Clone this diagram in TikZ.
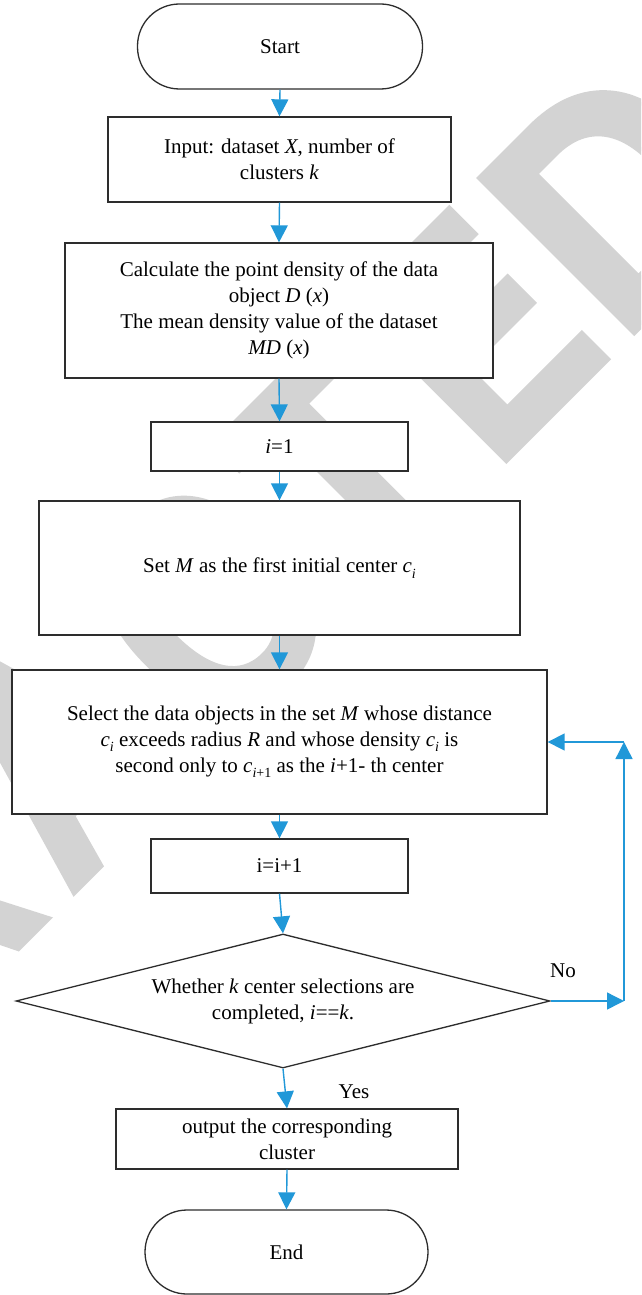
\documentclass[tikz,border=0pt]{standalone}
\usepackage{fontspec}
\setmainfont{Liberation Serif}
\newfontfamily\wmfont{Liberation Sans}[FakeBold=2,FakeStretch=0.8]
\newfontfamily\wmfontwide{Liberation Sans}[FakeBold=2,FakeStretch=0.9]
\usetikzlibrary{arrows.meta,shapes.geometric}
\definecolor{arrowblue}{RGB}{33,152,216}
\definecolor{wmgray}{RGB}{211,211,211}
\definecolor{boxline}{RGB}{45,45,45}
\newcommand\sbs[1]{\raisebox{-0.25em}{\fontsize{14}{14}\selectfont #1}}
\newcommand\wk{\kern27pt}
\tikzset{
  box/.style={draw=boxline, line width=1.3pt, fill=white, align=center, inner sep=0pt},
  term/.style={box, rounded corners=42pt},
  decision/.style={box, diamond, shape aspect=4},
  flow/.style={draw=arrowblue, line width=1.4pt, -{Triangle[length=17pt,width=17pt]}},
  wmark/.style={text=wmgray, font=\wmfont\bfseries\fontsize{316}{316}\selectfont, rotate=45, inner sep=0pt},
}
\begin{document}
\begin{tikzpicture}[x=1pt,y=-1pt, every node/.append style={font=\fontsize{21}{26}\selectfont}]
\useasboundingbox[fill=white] (0,0) rectangle (641,1295);
\begin{scope}
\clip (0,0) rectangle (641,1295);
\node[wmark, anchor=base east] (wm) at (766.3,199.7) {R\wk E\wk T\wk R\wk A\wk C\wk T\wk E\kern10pt{\wmfontwide\bfseries D}};
\end{scope}

\node[term, minimum width=285pt, minimum height=85pt] (start) at (280,46.5) {Start};
\node[box, minimum width=343pt, minimum height=85pt] (input) at (279.5,159.5)
  {Input: dataset \textit{X}, number of\\clusters \textit{k}};
\node[box, minimum width=428pt, minimum height=135pt] (calc) at (279,310.5)
  {Calculate the point density of the data\\object \textit{D} (\textit{x})\\The mean density value of the dataset\\\textit{MD} (\textit{x})};
\node[box, minimum width=257pt, minimum height=49pt] (ione) at (279.5,446.5) {\textit{i}=1};
\node[box, minimum width=481pt, minimum height=134pt] (setm) at (279.5,568)
  {Set \textit{M} as the first initial center \textit{c}\sbs{\textit{i}}};
\node[box, minimum width=535pt, minimum height=144pt] (sel) at (279.5,742)
  {Select the data objects in the set \textit{M} whose distance\\\textit{c}\sbs{\textit{i}} exceeds radius \textit{R} and whose density \textit{c}\sbs{\textit{i}} is\\second only to \textit{c}\sbs{\textit{i}+1} as the \textit{i}+1- th center};
\node[box, minimum width=257pt, minimum height=54pt] (inc) at (279.5,866) {i=i+1};
\node[decision, minimum width=534pt, minimum height=134pt] (dia) at (283,1001)
  {Whether \textit{k} center selections are\\completed, \textit{i}==\textit{k}.};
\node[box, minimum width=342pt, minimum height=60pt] (out) at (287,1139)
  {output the corresponding\\cluster};
\node[term, minimum width=283pt, minimum height=84pt] (end) at (286.5,1252) {End};

\node (nolbl) at (563,971) {No};
\node (yeslbl) at (354,1092) {Yes};

\coordinate (n1) at (624,1001);
\coordinate (n2) at (624,742);

\draw[flow] (start.south) -- (input.north);
\draw[flow] (input.south) -- (calc.north);
\draw[flow] (calc.south) -- (ione.north);
\draw[flow] (ione.south) -- (setm.north);
\draw[flow] (setm.south) -- (sel.north);
\draw[flow] (sel.south) -- (inc.north);
\draw[flow] (inc.south) -- (dia.north);
\draw[flow] (dia.south) -- (out.north);
\draw[flow] (out.south) -- (end.north);
\draw[flow] (dia.east) -- (n1);
\draw[flow] (n1) -- (n2);
\draw[flow] (n2) -- (sel.east);
\end{tikzpicture}
\end{document}
